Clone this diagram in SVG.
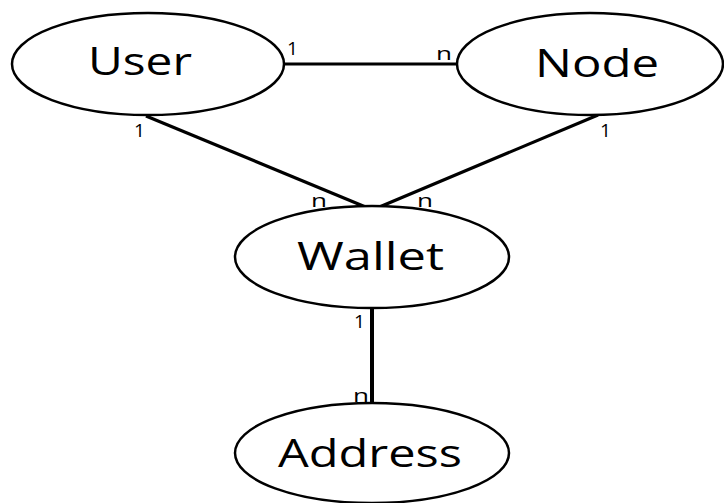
<svg xmlns="http://www.w3.org/2000/svg" width="724" height="503" viewBox="0 0 724 503">
  <style>
    .entity { fill: #fff; stroke: #000; stroke-width: 2.5; }
    .name { font-family: "Open Sans", "Noto Sans", sans-serif; font-size: 38px; fill: #000; }
    .card { font-family: "Open Sans", "Noto Sans", sans-serif; font-size: 19px; fill: #000; }
    .rel { stroke: #000; stroke-width: 3.2; fill: none; }
    .rel.v { stroke-width: 4; }
  </style>
  <rect width="724" height="503" fill="#fff"/>
  <g id="connectors">
    <line class="rel" x1="285" y1="64" x2="457" y2="64"/>
    <line class="rel" x1="146" y1="116" x2="368" y2="208"/>
    <line class="rel" x1="598" y1="115" x2="377" y2="208"/>
    <line class="rel v" x1="372" y1="309" x2="372" y2="404"/>
    <text class="card" x="287" y="55" textLength="11" lengthAdjust="spacingAndGlyphs">1</text>
    <text class="card" x="436" y="60" textLength="16" lengthAdjust="spacingAndGlyphs">n</text>
    <text class="card" x="134" y="137" textLength="11" lengthAdjust="spacingAndGlyphs">1</text>
    <text class="card" x="600" y="137" textLength="11" lengthAdjust="spacingAndGlyphs">1</text>
    <text class="card" x="311" y="207" textLength="16" lengthAdjust="spacingAndGlyphs">n</text>
    <text class="card" x="417" y="207" textLength="16" lengthAdjust="spacingAndGlyphs">n</text>
    <text class="card" x="354" y="328" textLength="11" lengthAdjust="spacingAndGlyphs">1</text>
    <text class="card" x="353" y="402" textLength="16" lengthAdjust="spacingAndGlyphs">n</text>
  </g>
  <g id="user">
    <ellipse class="entity" cx="148" cy="64" rx="136" ry="51"/>
    <text class="name" x="88" y="75" textLength="104" lengthAdjust="spacingAndGlyphs">User</text>
  </g>
  <g id="node">
    <ellipse class="entity" cx="590" cy="64" rx="133" ry="51"/>
    <text class="name" x="535" y="77" textLength="124" lengthAdjust="spacingAndGlyphs">Node</text>
  </g>
  <g id="wallet">
    <ellipse class="entity" cx="372" cy="257" rx="137" ry="51"/>
    <text class="name" x="297" y="270" textLength="147" lengthAdjust="spacingAndGlyphs">Wallet</text>
  </g>
  <g id="address">
    <ellipse class="entity" cx="372" cy="453" rx="137" ry="50"/>
    <text class="name" x="278" y="467" textLength="184" lengthAdjust="spacingAndGlyphs">Address</text>
  </g>
</svg>
